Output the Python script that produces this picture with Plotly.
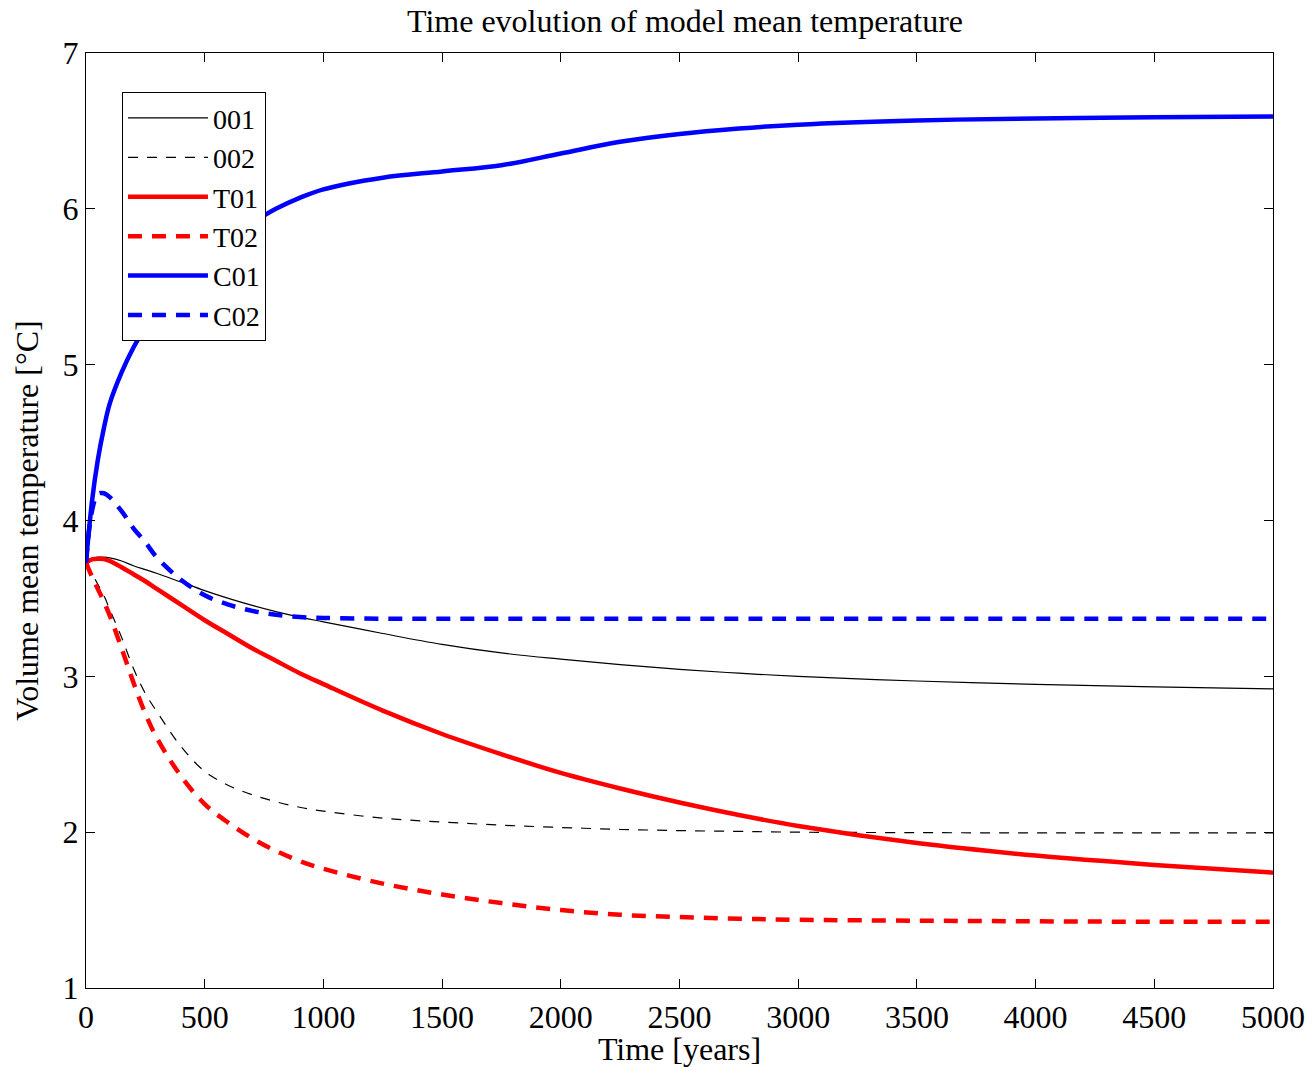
import plotly.graph_objects as go

# Time axis (years) and model mean temperatures (deg C)
time_years = [0, 25, 50, 75, 100, 150, 200, 250, 300, 400, 500, 600, 700, 800, 900,
              1000, 1250, 1500, 1750, 2000, 2250, 2500, 2750, 3000, 3500, 4000, 4500, 5000]

temp_001 = [3.73, 3.755, 3.765, 3.765, 3.76, 3.74, 3.71, 3.685, 3.66, 3.605, 3.55, 3.50, 3.455, 3.415, 3.38,
            3.35, 3.275, 3.205, 3.15, 3.11, 3.075, 3.045, 3.02, 3.00, 2.97, 2.948, 2.932, 2.92]
temp_002 = [3.73, 3.66, 3.59, 3.52, 3.43, 3.25, 3.05, 2.89, 2.77, 2.55, 2.39, 2.30, 2.24, 2.195, 2.16,
            2.135, 2.09, 2.065, 2.045, 2.03, 2.018, 2.01, 2.005, 2.00, 1.997, 1.995, 1.995, 1.995]
temp_t01 = [3.73, 3.75, 3.755, 3.752, 3.74, 3.70, 3.655, 3.61, 3.56, 3.46, 3.36, 3.27, 3.18, 3.10, 3.02,
            2.95, 2.78, 2.63, 2.50, 2.38, 2.28, 2.19, 2.11, 2.04, 1.93, 1.85, 1.79, 1.74]
temp_t02 = [3.73, 3.64, 3.56, 3.48, 3.39, 3.18, 2.96, 2.76, 2.60, 2.36, 2.18, 2.06, 1.96, 1.88, 1.815,
            1.765, 1.67, 1.60, 1.545, 1.50, 1.47, 1.455, 1.445, 1.438, 1.432, 1.428, 1.425, 1.425]
temp_c01 = [3.73, 4.12, 4.39, 4.59, 4.75, 4.95, 5.11, 5.24, 5.35, 5.53, 5.68, 5.81, 5.91, 6.00, 6.07,
            6.125, 6.20, 6.24, 6.28, 6.355, 6.43, 6.48, 6.515, 6.54, 6.567, 6.58, 6.588, 6.592]
temp_c02 = [3.73, 4.06, 4.17, 4.175, 4.15, 4.06, 3.95, 3.86, 3.76, 3.62, 3.52, 3.46, 3.42, 3.395, 3.38,
            3.375, 3.37, 3.37, 3.37, 3.37, 3.37, 3.37, 3.37, 3.37, 3.37, 3.37, 3.37, 3.37]

FONT = "Liberation Serif, Times New Roman, serif"

# the page body adds an 8px margin, so the figure is 8px smaller than the window
PAGE_OFFSET = 8


def make_line(y, name, color, width, dash):
    return go.Scatter(x=time_years, y=y, name=name, mode="lines",
                      line=dict(color=color, width=width, dash=dash, shape="spline", smoothing=1.0))


def axis_style(**kw):
    base = dict(showline=True, linecolor="black", linewidth=1.3, mirror="ticks",
                ticks="inside", ticklen=9, tickwidth=1, tickcolor="black", automargin=False,
                showgrid=False, zeroline=False, tickfont=dict(size=32, color="black"))
    base.update(kw)
    return base


fig = go.Figure([
    make_line(temp_001, "001", "black", 1.2, "solid"),
    make_line(temp_002, "002", "black", 1.2, "10px,9px"),
    make_line(temp_t01, "T01", "#ff0000", 4.5, "solid"),
    make_line(temp_t02, "T02", "#ff0000", 4.5, "14px,10px"),
    make_line(temp_c01, "C01", "#0000ff", 4.5, "solid"),
    make_line(temp_c02, "C02", "#0000ff", 4.5, "14px,10px"),
])

W, H = 1313 - PAGE_OFFSET, 1067 - PAGE_OFFSET
fig.update_layout(
    width=W, height=H,
    margin=dict(l=86 - PAGE_OFFSET, r=40, t=53 - PAGE_OFFSET, b=79, autoexpand=False),
    paper_bgcolor="white", plot_bgcolor="white",
    font=dict(family=FONT, size=32, color="black"),
    title=dict(text="Time evolution of model mean temperature", x=(685 - PAGE_OFFSET) / W,
               xanchor="center", y=1 - 13 / H, yanchor="middle", font=dict(size=32)),
    xaxis=axis_style(range=[0, 5000], dtick=500, tick0=0,
                     title=dict(text="Time [years]", standoff=4, font=dict(size=32))),
    yaxis=axis_style(range=[1, 7], dtick=1, tick0=1,
                     title=dict(text="Volume mean temperature [°C]", standoff=14, font=dict(size=32))),
    legend=dict(x=0.0303, y=0.958, xanchor="left", yanchor="top",
                bordercolor="black", borderwidth=1, bgcolor="white",
                font=dict(size=28), itemwidth=80, tracegroupgap=0),
    showlegend=True,
)

fig.write_html("out.html")
